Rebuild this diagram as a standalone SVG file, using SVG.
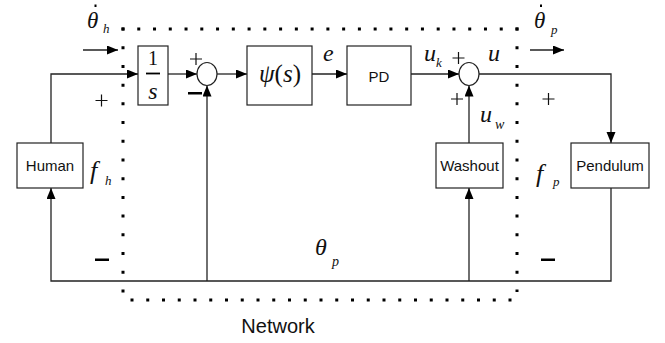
<svg xmlns="http://www.w3.org/2000/svg" width="665" height="343" viewBox="0 0 665 343">
<defs>
<marker id="ah" markerUnits="userSpaceOnUse" markerWidth="12" markerHeight="10" refX="11" refY="4.5" orient="auto">
<path d="M0,0 L11,4.5 L0,9 z" fill="#000"/>
</marker>
<style>
.box{fill:#fff;stroke:#222;stroke-width:1.2}
.ln{fill:none;stroke:#222;stroke-width:1.3}
.pl{fill:none;stroke:#111;stroke-width:1.2}
.lbl{font-family:"Liberation Sans",Arial,sans-serif;font-size:15px;fill:#111;text-anchor:middle}
.m{font-family:"Liberation Serif","Times New Roman",serif;font-style:italic;font-size:24px;fill:#111}
.sub{font-family:"Liberation Serif","Times New Roman",serif;font-style:italic;font-size:14px;fill:#111}
.up{font-family:"Liberation Serif","Times New Roman",serif;font-size:20px;fill:#111;text-anchor:middle}
.dot{stroke:#000;stroke-width:3;fill:none}
</style>
</defs>
<rect width="665" height="343" fill="#fff"/>

<g id="network">
<line class="dot" x1="121.5" y1="29" x2="519" y2="29" stroke-dasharray="3 12.76"/>
<line class="dot" x1="123" y1="27.5" x2="123" y2="293" stroke-dasharray="3 15.71"/>
<line class="dot" x1="517" y1="27.5" x2="517" y2="292" stroke-dasharray="3 15.71"/>
<line class="dot" x1="130.5" y1="300" x2="512" y2="300" stroke-dasharray="3 12.75"/>
<text x="278" y="333" class="lbl" style="font-size:20px">Network</text>
</g>

<g id="connectors">
<path class="ln" d="M51,143 V74 H138" marker-end="url(#ah)"/>
<path class="ln" d="M168,74 H197" marker-end="url(#ah)"/>
<path class="ln" d="M217,74 H247" marker-end="url(#ah)"/>
<path class="ln" d="M312,74 H347" marker-end="url(#ah)"/>
<path class="ln" d="M411,74 H459" marker-end="url(#ah)"/>
<path class="ln" d="M479,74 H611 V143" marker-end="url(#ah)"/>
<path class="ln" d="M611,188 V281 H51 V188" marker-end="url(#ah)"/>
<path class="ln" d="M207,281 V85.5" marker-end="url(#ah)"/>
<path class="ln" d="M469,281 V188" marker-end="url(#ah)"/>
<path class="ln" d="M469,143 V85.5" marker-end="url(#ah)"/>
<path class="ln" d="M83,50 H118" marker-end="url(#ah)"/>
<path class="ln" d="M530,50 H564" marker-end="url(#ah)"/>
</g>

<g id="integrator">
<rect class="box" x="138" y="46" width="30" height="59"/>
<text x="153" y="65" class="up" style="font-size:20px">1</text>
<line x1="146" y1="73.5" x2="160" y2="73.5" stroke="#000" stroke-width="1.8"/>
<text x="153" y="99" class="m" text-anchor="middle">s</text>
</g>

<g id="sum1">
<ellipse cx="207" cy="74" rx="10" ry="11.5" fill="#fff" stroke="#222" stroke-width="1.2"/>
<path class="pl" d="M190,59 H202 M196,53 V65"/>
<rect x="188" y="92" width="14" height="2.5" fill="#000"/>
</g>

<g id="psi">
<rect class="box" x="247" y="46" width="65" height="59"/>
<text x="280" y="82" class="m" text-anchor="middle" style="font-size:25px">ψ<tspan font-style="normal">(</tspan>s<tspan font-style="normal">)</tspan></text>
</g>

<g id="pd">
<rect class="box" x="347" y="46" width="64" height="59"/>
<text x="379" y="82" class="lbl">PD</text>
</g>

<g id="sum2">
<ellipse cx="469" cy="74" rx="10" ry="11.5" fill="#fff" stroke="#222" stroke-width="1.2"/>
<path class="pl" d="M452.5,58 H464.5 M458.5,52 V64"/>
<path class="pl" d="M451,99 H463 M457,93 V105"/>
</g>

<g id="human">
<rect class="box" x="17" y="143" width="66" height="45"/>
<text x="50" y="171" class="lbl">Human</text>
</g>

<g id="washout">
<rect class="box" x="436" y="143" width="67" height="45"/>
<text x="469.5" y="171" class="lbl">Washout</text>
</g>

<g id="pendulum">
<rect class="box" x="571" y="143" width="78" height="45"/>
<text x="610" y="171" class="lbl">Pendulum</text>
</g>

<g id="labels">
<text x="87" y="28" class="m" style="font-size:23px">θ</text>
<rect x="94.5" y="4.5" width="2" height="2.5" fill="#000"/>
<text x="103" y="33" class="sub" style="font-size:13px">h</text>
<path class="pl" d="M95.5,100.5 H107.5 M101.5,94.5 V106.5"/>
<rect x="95" y="258.5" width="14" height="2.5" fill="#000"/>
<text x="90" y="179" class="m" style="font-size:26px">f</text>
<text x="105" y="185" class="sub" style="font-size:13px">h</text>

<text x="323" y="61" class="m">e</text>
<text x="424" y="61" class="m">u</text>
<text x="436" y="67" class="sub" style="font-size:13px">k</text>
<text x="488" y="61" class="m">u</text>
<text x="480" y="122" class="m">u</text>
<text x="495" y="129" class="sub">w</text>

<text x="534" y="28" class="m" style="font-size:23px">θ</text>
<rect x="540" y="4.5" width="2" height="2.5" fill="#000"/>
<text x="551" y="34" class="sub" style="font-size:13px">p</text>
<path class="pl" d="M542.5,99 H554.5 M548.5,93 V105"/>
<rect x="541" y="258.5" width="14" height="2.5" fill="#000"/>
<text x="536" y="182" class="m" style="font-size:26px">f</text>
<text x="553" y="186" class="sub" style="font-size:13px">p</text>

<text x="315" y="255" class="m">θ</text>
<text x="332" y="266" class="sub">p</text>
</g>
</svg>
